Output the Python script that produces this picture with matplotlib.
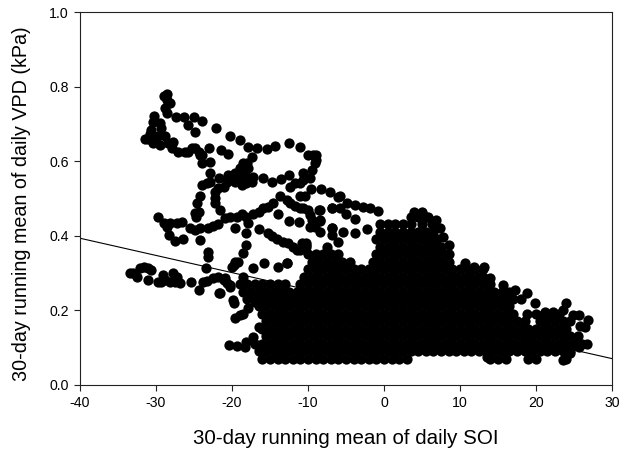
"""30-day running means: VPD against SOI, with fitted line."""
import matplotlib
matplotlib.use("Agg")
import matplotlib.pyplot as plt

plt.rcParams["font.family"] = ["Liberation Sans", "DejaVu Sans"]

# sparse part of the cloud
soi = [-28.5, -29.0, -28.6, -28.2, -28.8, -28.6, -30.2, -30.35, -29.5, -29.3, -30.8, -31.0, -30.4, -29.7, -28.8,
       -27.7, -27.9, -27.1, -26.2, -25.3, -24.4, -24.2, -27.4, -26.3, -25.0, -23.9, -25.75, -24.9, -22.1, -20.2,
       -18.9, -17.85, -16.75, -15.4, -14.4, -17.4, -18.05, -18.95, -19.6, -20.5, -21.7, -22.9, -24.0, -24.0, -22.9,
       -23.0, -21.5, -20.5, -22.9, -12.5, -11.0, -10.0, -8.9, -9.1, -9.7, -10.6, -11.05, -12.4, -13.5, -12.5,
       -14.7, -15.9, -17.2, -18.1, -18.7, -19.8, -20.7, -21.8, -22.2, -21.6, -8.3, -7.1, -6.0, -9.65, -11.05,
       -24.2, -24.65, -24.9, -24.7, -29.7, -29.0, -28.2, -26.6, -25.5, -24.2, -23.1, -21.8, -20.3, -19.6, -18.7,
       -17.85, -18.2, -18.2, -18.6, -28.25, -27.5, -26.4, -24.2, -23.1, -23.1, -23.4, -17.2, -15.9, -14.6, -13.7,
       -12.4, -11.05, -10.0, -9.5, -8.4, -6.9, -8.4, -6.9, -13.9, -12.5, -11.25, -16.5, -15.2, -14.1, -12.6, -11.5,
       -19.6, -20.0, -17.2, -15.75, -13.9, -12.8, -33.0, -32.55, -31.6, -30.6, -31.0, -29.1, -29.3, -27.7, -28.2,
       -26.85, -25.4, -24.35, -23.25, -21.8, -20.7, -21.7, -5.8, -6.9, -5.8, -4.9, -3.8, -2.7, -1.8, -0.8, -5.0,
       -3.8, -8.5, -8.4, -6.9, -5.4, -3.8, -2.3, -6.9, -6.0, -8.4, -9.7, -10.2, -11.0, -12.8, 8.5, 8.6, 7.8, 7.4,
       6.8, 5.8, 4.95, 3.9, 24.0, 23.6, 22.3, 21.2, 19.9, 18.8, 17.2, 15.7, 13.9, 13.1, 10.7, 11.8, 25.6, 26.9,
       26.4, 25.8, 24.9, 26.7, 25.6, 24.5, 23.6, 13.5, -20.35, -19.4, -18.3, -19.6, -18.5, -19.9, -20.9, -20.3, -21.6,
       -31.45, -30.6, -30.1, -29.5, -28.4, -25.75, -24.9, -24.0, -18.5, -17.85, -19.15, -18.3, -17.85, -17.4, -18.7,
       -19.6, -23.3, -21.1, -22.2, -22.2, -10.6, -11.7, -9.5, -8.9, -9.3, -10.4, -28.6, -27.3, -24.9, -22.5, -20.9,
       -19.4, -18.1, -16.5, -15.2, -12.8, -11.7, -10.6, -9.7, -9.1, -14.8, -13.25, -12.0, -10.8, -10.2, -19.8, -19.2,
       -32.1, -31.0, -33.4, -29.7, -28.8, -27.5, -27.3, -23.8, -22.5, -21.1, -20.3, -24.4, -19.0, -17.85, -17.0,
       -19.8, -17.2, -18.1, -16.5]
vpd = [0.780, 0.775, 0.764, 0.757, 0.742, 0.728, 0.721, 0.706, 0.703, 0.688, 0.674, 0.658, 0.648, 0.666, 0.666,
       0.650, 0.634, 0.625, 0.625, 0.634, 0.625, 0.616, 0.718, 0.717, 0.718, 0.708, 0.697, 0.679, 0.688, 0.668,
       0.656, 0.639, 0.634, 0.632, 0.641, 0.612, 0.594, 0.581, 0.567, 0.563, 0.554, 0.545, 0.536, 0.594, 0.597,
       0.634, 0.630, 0.618, 0.569, 0.649, 0.638, 0.616, 0.616, 0.594, 0.554, 0.567, 0.540, 0.530, 0.552, 0.563,
       0.544, 0.555, 0.556, 0.540, 0.549, 0.554, 0.545, 0.527, 0.500, 0.469, 0.525, 0.517, 0.504, 0.525, 0.505,
       0.505, 0.487, 0.460, 0.451, 0.451, 0.433, 0.435, 0.437, 0.420, 0.420, 0.420, 0.431, 0.449, 0.420, 0.458,
       0.433, 0.406, 0.375, 0.354, 0.401, 0.386, 0.390, 0.388, 0.357, 0.343, 0.312, 0.458, 0.473, 0.487, 0.505,
       0.487, 0.473, 0.469, 0.442, 0.469, 0.475, 0.442, 0.420, 0.458, 0.440, 0.436, 0.418, 0.406, 0.390, 0.379, 0.361,
       0.330, 0.317, 0.312, 0.326, 0.315, 0.326, 0.299, 0.290, 0.317, 0.308, 0.281, 0.294, 0.276, 0.299, 0.276,
       0.274, 0.276, 0.254, 0.279, 0.290, 0.272, 0.247, 0.506, 0.473, 0.473, 0.487, 0.482, 0.478, 0.473, 0.466, 0.458,
       0.445, 0.469, 0.439, 0.420, 0.411, 0.408, 0.417, 0.402, 0.384, 0.410, 0.424, 0.375, 0.361, 0.326, 0.375, 0.352, 0.397, 0.420,
       0.442, 0.451, 0.464, 0.464, 0.218, 0.200, 0.196, 0.196, 0.218, 0.245, 0.254, 0.267, 0.285, 0.317, 0.326, 0.317, 0.187, 0.174,
       0.156, 0.157, 0.187, 0.109, 0.102, 0.084, 0.066, 0.075, 0.107, 0.103, 0.100, 0.180, 0.190, 0.227, 0.285, 0.267, 0.245,
       0.658, 0.683, 0.657, 0.643, 0.648, 0.625, 0.634, 0.616, 0.594, 0.581, 0.567, 0.563, 0.554, 0.545, 0.536,
       0.545, 0.540, 0.531, 0.518, 0.487, 0.549, 0.540, 0.576, 0.603, 0.616, 0.505, 0.424, 0.433, 0.415, 0.426, 0.446,
       0.451, 0.451, 0.464, 0.478, 0.496, 0.480, 0.473, 0.455, 0.424, 0.399, 0.384, 0.370, 0.379, 0.379, 0.321, 0.330,
       0.312, 0.312, 0.300, 0.276, 0.281, 0.276, 0.290, 0.276, 0.285, 0.281, 0.263, 0.464, 0.187, 0.205, 0.223,
       0.218, 0.129, 0.115, 0.156]

# solid part of the cloud, one list of SOI values per VPD level
block_vpd = [0.07, 0.09, 0.11, 0.13, 0.15, 0.17, 0.19, 0.21, 0.23, 0.25,
             0.27, 0.29, 0.31, 0.33, 0.35, 0.37, 0.39, 0.41, 0.43, 0.45]
block_soi = [
    [-16, -15, -14, -13, -12, -11, -10, -9, -8, -7, -6, -5, -4, -3, -2, -1, 0, 1, 2, 3, 14, 15, 16, 19, 20, 24],
    [-16.5, -15.5, -14.5, -13.5, -12.5, -11.5, -10.5, -9.5, -8.5, -7.5, -6.5, -5.5, -4.5, -3.5, -2.5, -1.5, -0.5, 0.5, 1.5, 2.5,
     3.5, 4.5, 5.5, 6.5, 7.5, 8.5, 9.5, 10.5, 11.5, 12.5, 13.5, 14.5, 15.5, 16.5, 17.5, 18.5, 19.5, 20.5, 21.5, 22.5, 23.5, 24.5],
    [-17, -16, -15, -14, -13, -12, -11, -10, -9, -8, -7, -6, -5, -4, -3, -2, -1, 0, 1, 2, 3, 4, 5, 6, 7, 8, 9, 10,
     11, 12, 13, 14, 15, 16, 17, 18, 19, 20, 21, 22, 23, 24, 25, 26],
    [-15.5, -14.5, -13.5, -12.5, -11.5, -10.5, -9.5, -8.5, -7.5, -6.5, -5.5, -4.5, -3.5, -2.5, -1.5, -0.5, 0.5, 1.5, 2.5,
     3.5, 4.5, 5.5, 6.5, 7.5, 8.5, 9.5, 10.5, 11.5, 12.5, 13.5, 14.5, 15.5, 16.5, 17.5, 18.5, 19.5, 20.5, 21.5, 22.5, 23.5, 24.5, 25.5],
    [-16, -15, -14, -13, -12, -11, -10, -9, -8, -7, -6, -5, -4, -3, -2, -1, 0, 1, 2, 3, 4, 5, 6, 7, 8, 9, 10,
     11, 12, 13, 14, 15, 16, 17, 18, 19, 20, 21, 22, 23, 24],
    [-15.5, -14.5, -13.5, -12.5, -11.5, -10.5, -9.5, -8.5, -7.5, -6.5, -5.5, -4.5, -3.5, -2.5, -1.5, -0.5, 0.5, 1.5, 2.5,
     3.5, 4.5, 5.5, 6.5, 7.5, 8.5, 9.5, 10.5, 11.5, 12.5, 13.5, 14.5, 15.5, 16.5, 17.5, 18.5, 20.5, 21.5, 22.5, 23.5, 24.5],
    [-16, -15, -14, -13, -12, -11, -10, -9, -8, -7, -6, -5, -4, -3, -2, -1, 0, 1, 2, 3, 4, 5, 6, 7, 8, 9, 10,
     11, 12, 13, 14, 15, 16, 17, 18.8, 20, 21, 22, 23],
    [-16.5, -15.5, -14.5, -13.5, -12.5, -11.5, -10.5, -9.5, -8.5, -7.5, -6.5, -5.5, -4.5, -3.5, -2.5, -1.5, -0.5, 0.5, 1.5, 2.5,
     3.5, 4.5, 5.5, 6.5, 7.5, 8.5, 9.5, 10.5, 11.5, 12.5, 13.5, 14.5, 15.5, 16.5],
    [-18, -17, -16, -15, -14, -13, -12, -11, -10, -9, -8, -7, -6, -5, -4, -3, -2, -1, 0, 1, 2, 3, 4, 5, 6, 7, 8, 9, 10,
     11, 12, 13, 14, 15, 16, 17, 18],
    [-18.5, -17.5, -16.5, -15.5, -14.5, -13.5, -12.5, -11.5, -10.5, -9.5, -8.5, -7.5, -6.5, -5.5, -4.5, -3.5, -2.5, -1.5, -0.5, 0.5, 1.5, 2.5,
     3.5, 4.5, 5.5, 6.5, 7.5, 8.5, 9.5, 10.5, 11.5, 12.5, 13.5, 14.5, 15.5, 16.5],
    [-19, -18, -17, -16, -15, -14, -13, -11, -10, -9, -8, -7, -6, -5, -4, -3, -2, -1, 0, 1, 2, 3, 4, 5, 6, 7, 8, 9, 10, 11, 12, 13, 14],
    [-18.5, -10.5, -9.5, -8.5, -7.5, -6.5, -5.5, -4.5, -3.5, -2.5, -1.5, -0.5, 0.5, 1.5, 2.5,
     3.5, 4.5, 5.5, 6.5, 7.5, 8.5, 9.5, 10.5, 11.5, 12.5, 13],
    [-10, -9, -8, -7, -6, -5, -4, -3, -2, -1, 0, 1, 2, 3, 4, 5, 6, 7, 8, 9, 10, 11, 12, 13],
    [-9.5, -8.5, -7.5, -6.5, -5.5, -4.5, -1.5, -0.5, 0.5, 1.5, 2.5, 3.5, 4.5, 5.5, 6.5, 7.5, 8.5],
    [-10, -9, -8, -7, -6, -1, 0, 1, 2, 3, 4, 5, 6, 7, 8],
    [-10.2, -7.5, -0.5, 0.5, 1.5, 2.5, 3.5, 4.5, 5.5, 6.5, 7.5],
    [-1, 0, 1, 2, 3, 4, 5, 6, 7],
    [-0.5, 0.5, 1.5, 2.5, 3.5, 4.5, 5.5, 6.5],
    [-0.5, 0.5, 1.5, 2.5, 3.5, 5, 6.3],
    [3.5, 4.5, 5.5],
]

# fitted line end values
fit_soi = [-40, 30]
fit_vpd = [0.393, 0.07]

x_ticks = [-40, -30, -20, -10, 0, 10, 20, 30]
y_ticks = [0.0, 0.2, 0.4, 0.6, 0.8, 1.0]

fig = plt.figure(figsize=(6.23, 4.53), dpi=100)
ax = fig.add_axes([80 / 623, 1 - 384.7 / 453, 532 / 623, 372.7 / 453])

# the cloud: sparse points plus the solid block
all_soi = list(soi)
all_vpd = list(vpd)
for level, row in zip(block_vpd, block_soi):
    all_soi.extend(row)
    all_vpd.extend([level] * len(row))

ax.plot(fit_soi, fit_vpd, color="black", linewidth=0.8, zorder=1)
ax.plot(all_soi, all_vpd, "o", color="black", markersize=7.4, markeredgewidth=0, zorder=2, clip_on=False)

ax.set_xlim(-40, 30)
ax.set_ylim(0, 1)
ax.set_xticks(x_ticks, [str(t) for t in x_ticks])
ax.set_yticks(y_ticks, [f"{t:.1f}" for t in y_ticks])
ax.tick_params(direction="out", length=4, width=0.8, labelsize=10.2, pad=4, color="#222222")
for side in ax.spines.values():
    side.set_linewidth(0.8)
    side.set_color("#222222")

ax.set_xlabel("30-day running mean of daily SOI", fontsize=14.8, labelpad=13.5)
ax.set_ylabel("30-day running mean of daily VPD (kPa)", fontsize=14.2, labelpad=13, y=0.487)

fig.savefig("out.png", dpi=100)
